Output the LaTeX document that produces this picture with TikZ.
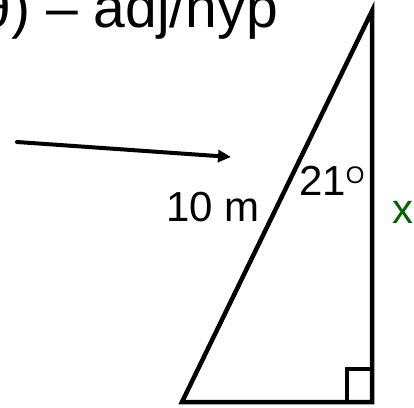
\documentclass[tikz,border=0pt]{standalone}
\usepackage{fontspec}
\setmainfont{Liberation Sans}
\usepackage{tikz}
\usetikzlibrary{arrows.meta,positioning}

\begin{document}
\begin{tikzpicture}[x=1pt,y=-1pt,
  side/.style={line width=4.5pt,line join=miter},
  arr/.style={-{Triangle[length=13pt,width=12pt]},line width=4pt,line cap=round},
  lab/.style={inner sep=0pt,font=\fontsize{42}{50}\selectfont},
  head/.style={inner sep=0pt,font=\fontsize{57}{64}\selectfont}]
  \clip (0,0) rectangle (414,407);
  % triangle corners
  \coordinate (top) at (372,11);
  \coordinate (bl)  at (182,402);
  \coordinate (br)  at (372,402);
  \coordinate (from) at (17,142);
  \coordinate (to)   at (231,157);
  \node[head,anchor=base east] (title) at (278,27) {θ) – adj/hyp};
  \draw[side] (top) -- (bl) -- (br) -- cycle;
  \draw[line width=3.5pt] ([xshift=-25pt]br) |- ([yshift=33pt]br);
  \draw[arr] (from) -- (to);
  \node[lab,anchor=base west] (hyp) at (166,221) {10 m};
  \node[lab,anchor=base west] (ang) at (299,195) {21\raisebox{12pt}{\fontsize{24}{24}\selectfont O}};
  \node[lab,anchor=base west,text={rgb,255:red,0;green,100;blue,0}] (adj) at (392,223) {x};
\end{tikzpicture}
\end{document}
